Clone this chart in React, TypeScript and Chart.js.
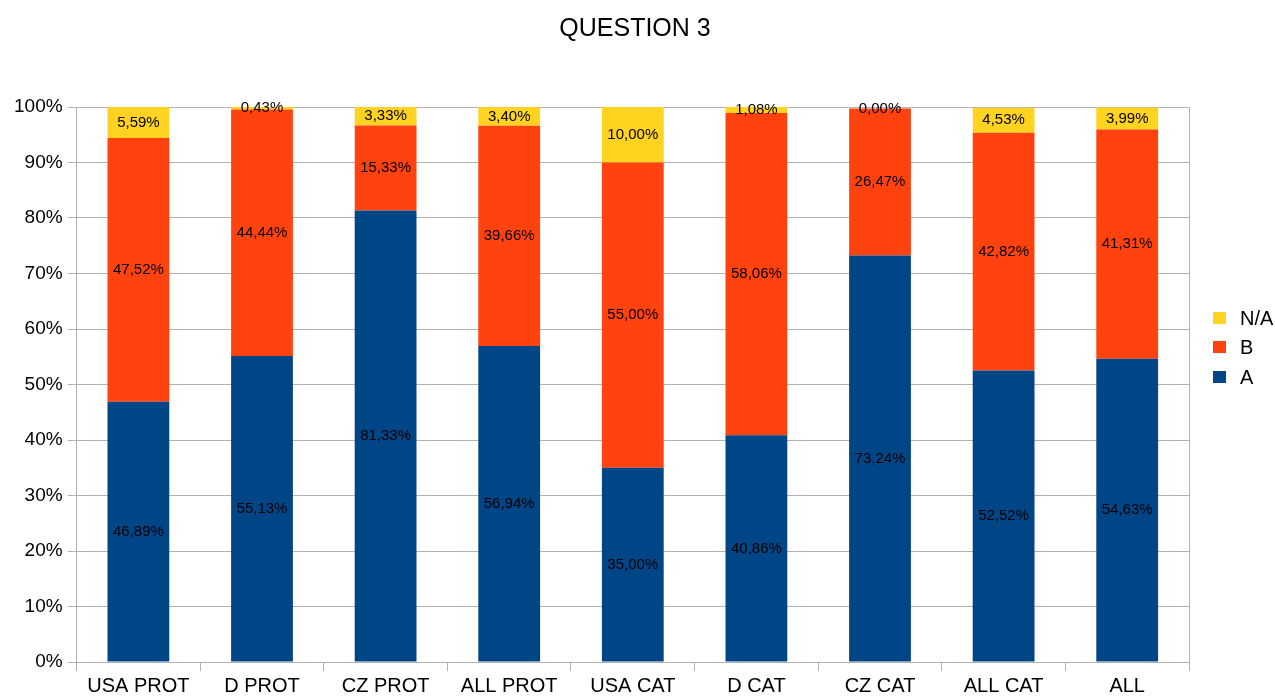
import React, { useEffect, useRef } from "react";
import { Chart, registerables } from "chart.js";

Chart.register(...registerables);

const categories = ["USA PROT", "D PROT", "CZ PROT", "ALL PROT", "USA CAT", "D CAT", "CZ CAT", "ALL CAT", "ALL"];
const seriesA = [46.89, 55.13, 81.33, 56.94, 35.0, 40.86, 73.24, 52.52, 54.63];
const seriesB = [47.52, 44.44, 15.33, 39.66, 55.0, 58.06, 26.47, 42.82, 41.31];
const seriesNA = [5.59, 0.43, 3.33, 3.4, 10.0, 1.08, 0.0, 4.53, 3.99];
const yTicks = [0, 10, 20, 30, 40, 50, 60, 70, 80, 90, 100];

const title = "QUESTION 3";
const FONT = "'Liberation Sans', Arial, sans-serif";
const COLORS = { A: "#004586", B: "#ff420e", NA: "#ffd320" };
const GRID = "#b3b3b3";

const fmt = (v: number) => v.toFixed(2).replace(".", ",") + "%";

const customPlugin = {
  id: "custom",
  beforeDatasetsDraw(chart: any) {
    const { ctx, chartArea } = chart;
    ctx.save();
    ctx.strokeStyle = GRID;
    ctx.lineWidth = 1;
    ctx.beginPath();
    const x = Math.round(chartArea.right) + 0.5;
    ctx.moveTo(x, chartArea.top);
    ctx.lineTo(x, chartArea.bottom + 9);
    ctx.stroke();
    ctx.restore();
  },
  afterDatasetsDraw(chart: any) {
    const { ctx } = chart;
    ctx.save();
    ctx.font = `15px ${FONT}`;
    ctx.fillStyle = "#000";
    ctx.textAlign = "center";
    ctx.textBaseline = "middle";
    chart.data.datasets.forEach((ds: any, di: number) => {
      const meta = chart.getDatasetMeta(di);
      meta.data.forEach((el: any, i: number) => {
        const v = ds.data[i];
        const yc = (el.y + el.base) / 2;
        ctx.fillText(fmt(v), el.x, yc);
      });
    });
    ctx.restore();
  },
  afterDraw(chart: any) {
    const { ctx } = chart;
    ctx.save();
    ctx.fillStyle = "#000";
    ctx.font = `25px ${FONT}`;
    ctx.textAlign = "center";
    ctx.textBaseline = "middle";
    ctx.fillText(title, 635, 29);
    const items = [
      { label: "N/A", color: COLORS.NA, y: 318 },
      { label: "B", color: COLORS.B, y: 347 },
      { label: "A", color: COLORS.A, y: 377 },
    ];
    ctx.font = `20px ${FONT}`;
    ctx.textAlign = "left";
    items.forEach((it) => {
      ctx.fillStyle = it.color;
      ctx.fillRect(1213, it.y - 6, 13, 12);
      ctx.fillStyle = "#000";
      ctx.fillText(it.label, 1240, it.y + 1);
    });
    ctx.restore();
  },
};

export default function App() {
  const ref = useRef<HTMLCanvasElement>(null);
  useEffect(() => {
    if (!ref.current) return;
    const chart = new Chart(ref.current, {
      type: "bar",
      data: {
        labels: categories,
        datasets: [
          { label: "A", data: seriesA, backgroundColor: COLORS.A, categoryPercentage: 1, barPercentage: 0.5 },
          { label: "B", data: seriesB, backgroundColor: COLORS.B, categoryPercentage: 1, barPercentage: 0.5 },
          { label: "N/A", data: seriesNA, backgroundColor: COLORS.NA, categoryPercentage: 1, barPercentage: 0.5 },
        ],
      },
      options: {
        animation: false,
        responsive: false,
        maintainAspectRatio: false,
        layout: { padding: { top: 107, left: 9, right: 86, bottom: -4 } },
        plugins: { legend: { display: false }, title: { display: false }, tooltip: { enabled: false } },
        scales: {
          x: {
            stacked: true,
            grid: { drawOnChartArea: false, color: GRID, tickLength: 9, offset: true },
            border: { color: GRID },
            ticks: { color: "#000", font: { family: FONT, size: 20 }, padding: 3, maxRotation: 0, autoSkip: false },
          },
          y: {
            stacked: true,
            min: 0,
            max: 100,
            afterBuildTicks: (axis: any) => {
              axis.ticks = yTicks.map((v) => ({ value: v }));
            },
            grid: { color: GRID, tickLength: 9 },
            border: { color: GRID },
            ticks: { color: "#000", font: { family: FONT, size: 19 }, padding: 5, callback: (v: any) => v + "%" },
          },
        },
      },
      plugins: [customPlugin],
    });
    return () => chart.destroy();
  }, []);
  return (
    <div style={{ position: "fixed", left: 0, top: 0, width: 1275, height: 697, background: "#fff" }}>
      <canvas ref={ref} width={1275} height={697} style={{ width: 1275, height: 697 }} />
    </div>
  );
}
